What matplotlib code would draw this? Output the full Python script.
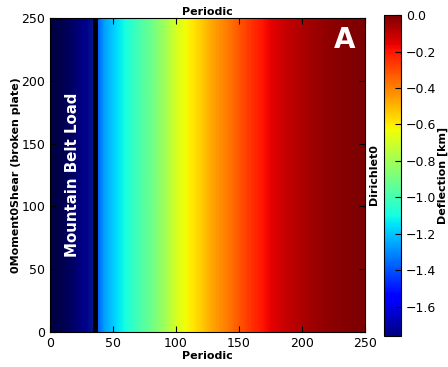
import numpy as np
import matplotlib
matplotlib.use('Agg')
import matplotlib.pyplot as plt

# deflection profile along x (km), constant in y
x_km = [0, 10, 20, 30, 40, 50, 60, 70, 80, 90, 100, 110, 120, 130, 140, 150,
        160, 170, 180, 190, 200, 210, 220, 230, 240, 250]
deflection = [-1.76, -1.70, -1.60, -1.47, -1.26, -1.16, -1.07, -0.98, -0.90, -0.80,
              -0.68, -0.61, -0.54, -0.46, -0.40, -0.33, -0.26, -0.20, -0.15, -0.11,
              -0.08, -0.055, -0.035, -0.02, -0.01, 0.0]
load_edge = 34
domain = [0, 250, 0, 250]
xticks = [0, 50, 100, 150, 200, 250]
yticks = [0, 50, 100, 150, 200, 250]
cbar_ticks = [0.0, -0.2, -0.4, -0.6, -0.8, -1.0, -1.2, -1.4, -1.6]

plt.rcParams['font.family'] = ['DejaVu Sans']
fig = plt.figure(figsize=(4.48, 3.67), dpi=100)
ax = fig.add_axes([0.1116, 0.0954, 0.7031, 0.8556])
cax = fig.add_axes([0.857, 0.0845, 0.038, 0.8745])

field = np.array([deflection])
im = ax.imshow(field, extent=domain, aspect='auto', cmap='jet',
               interpolation='bilinear', vmin=-1.76, vmax=0.0, origin='lower')
ax.axvspan(0, load_edge, color='black', alpha=0.45, lw=0)
ax.axvspan(load_edge, load_edge + 4, color='black', lw=0)
ax.set_xlim(0, 250)
ax.set_ylim(0, 250)
ax.set_xticks(xticks)
ax.set_yticks(yticks)
ax.tick_params(direction='in', top=True, right=True, labelsize=9, length=4)

ax.set_title('Periodic', fontsize=8, fontweight='bold', pad=2)
ax.set_xlabel('Periodic', fontsize=8, fontweight='bold', labelpad=1)
ax.set_ylabel('0Moment0Shear (broken plate)', fontsize=8, fontweight='bold', labelpad=0.5)
ax.text(1.03, 0.5, 'Dirichlet0', transform=ax.transAxes, rotation=90,
        ha='center', va='center', fontsize=8, fontweight='bold')
ax.text(0.935, 0.93, 'A', transform=ax.transAxes, color='white', fontsize=20,
        fontweight='bold', ha='center', va='center')
ax.text(18, 125, 'Mountain Belt Load', color='white', rotation=90, fontsize=10.8,
        fontweight='bold', ha='center', va='center')

cb = fig.colorbar(im, cax=cax, ticks=cbar_ticks)
cb.ax.tick_params(direction='in', labelsize=9, length=4)
cb.set_label('Deflection [km]', fontsize=8, fontweight='bold', labelpad=1)

fig.savefig('out.png', dpi=100)
